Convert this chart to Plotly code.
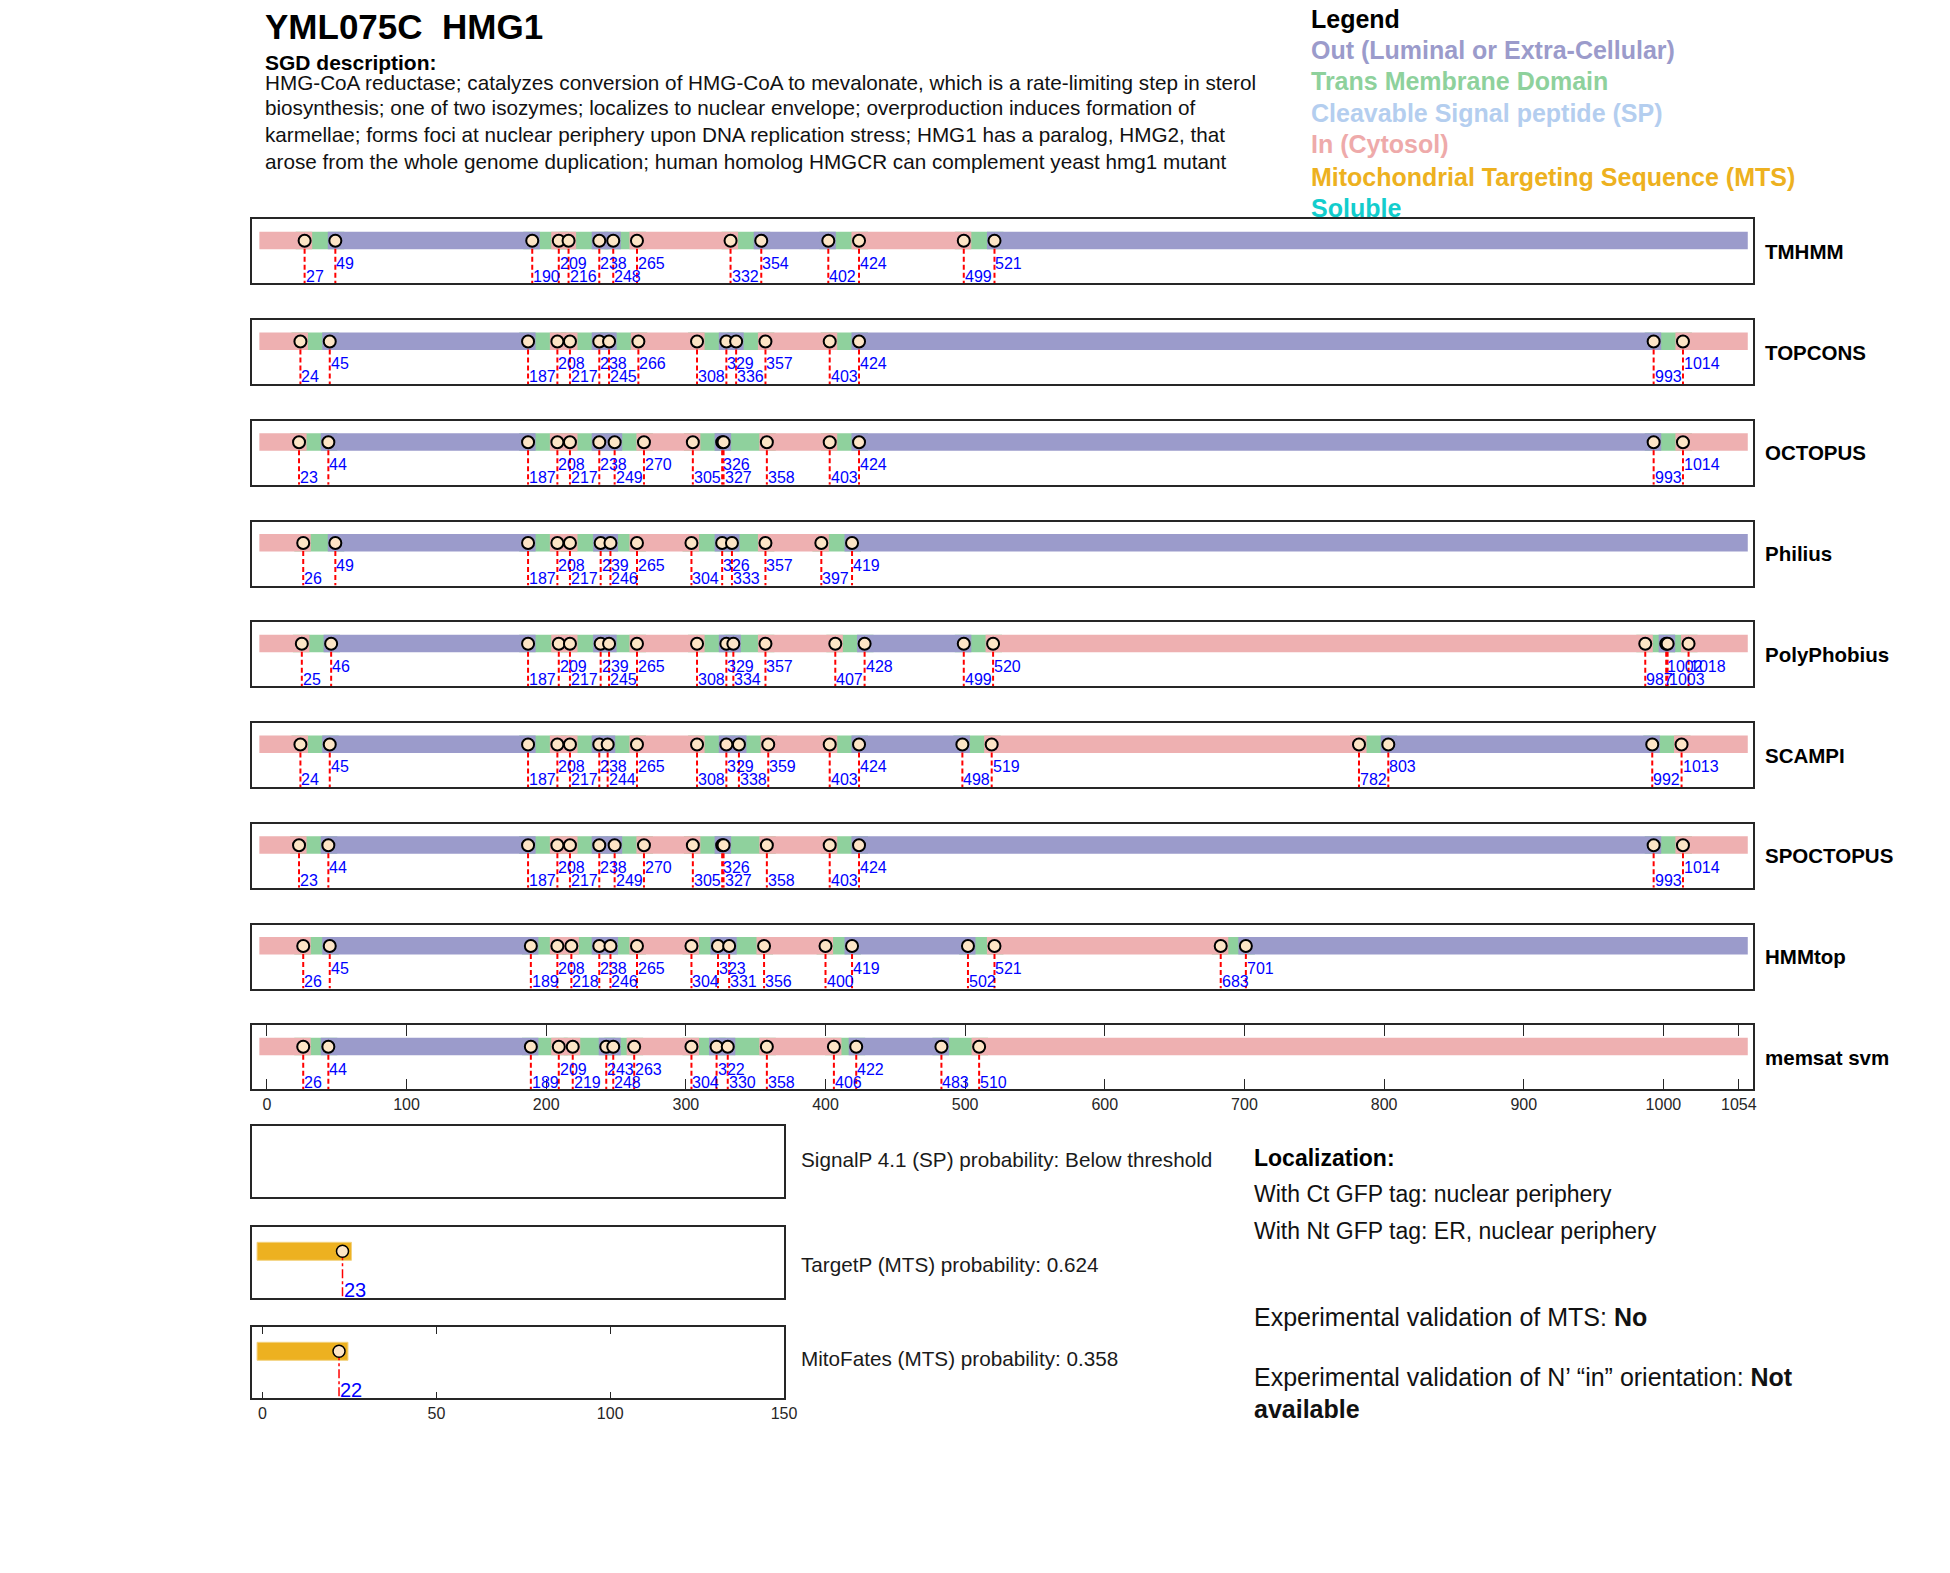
import plotly.graph_objects as go

# ---------------- data ----------------
SEQ_LEN = 1054
METHODS = ["TMHMM", "TOPCONS", "OCTOPUS", "Philius", "PolyPhobius",
           "SCAMPI", "SPOCTOPUS", "HMMtop", "memsat svm"]

TMHMM_POS = [27, 49, 190, 209, 216, 238, 248, 265, 332, 354, 402, 424, 499, 521]
TOPCONS_POS = [24, 45, 187, 208, 217, 238, 245, 266, 308, 329, 336, 357, 403, 424, 993, 1014]
OCTOPUS_POS = [23, 44, 187, 208, 217, 238, 249, 270, 305, 326, 327, 358, 403, 424, 993, 1014]
PHILIUS_POS = [26, 49, 187, 208, 217, 239, 246, 265, 304, 326, 333, 357, 397, 419]
POLYPHOBIUS_POS = [25, 46, 187, 209, 217, 239, 245, 265, 308, 329, 334, 357, 407, 428,
                   499, 520, 987, 1002, 1003, 1018]
SCAMPI_POS = [24, 45, 187, 208, 217, 238, 244, 265, 308, 329, 338, 359, 403, 424,
              498, 519, 782, 803, 992, 1013]
SPOCTOPUS_POS = [23, 44, 187, 208, 217, 238, 249, 270, 305, 326, 327, 358, 403, 424, 993, 1014]
HMMTOP_POS = [26, 45, 189, 208, 218, 238, 246, 265, 304, 323, 331, 356, 400, 419,
              502, 521, 683, 701]
MEMSAT_POS = [26, 44, 189, 209, 219, 243, 248, 263, 304, 322, 330, 358, 406, 422, 483, 510]
N_TERM_SIDE = ["in", "in", "in", "in", "in", "in", "in", "in", "in"]

MAIN_TICKS = [0, 100, 200, 300, 400, 500, 600, 700, 800, 900, 1000, 1054]
LOWER_TICKS = [0, 50, 100, 150]

TARGETP_MTS_END = 23
MITOFATES_MTS_END = 22
TARGETP_PROB = 0.624
MITOFATES_PROB = 0.358
SIGNALP_STATUS = "Below threshold"

GENE_TITLE = "YML075C\u00a0 HMG1"
DESCRIPTION = [
    "HMG-CoA reductase; catalyzes conversion of HMG-CoA to mevalonate, which is a rate-limiting step in sterol",
    "biosynthesis; one of two isozymes; localizes to nuclear envelope; overproduction induces formation of",
    "karmellae; forms foci at nuclear periphery upon DNA replication stress; HMG1 has a paralog, HMG2, that",
    "arose from the whole genome duplication; human homolog HMGCR can complement yeast hmg1 mutant",
]
LEGEND_ITEMS = ["Out (Luminal or Extra-Cellular)", "Trans Membrane Domain",
                "Cleavable Signal peptide (SP)", "In (Cytosol)",
                "Mitochondrial Targeting Sequence (MTS)", "Soluble"]

# ---------------- style ----------------
W, H = 1950, 1573
FONT = "Liberation Sans, Arial, Helvetica, sans-serif"
COL_OUT = "#9B9BCB"
COL_TM = "#8FD19D"
COL_SP = "#B4CEEF"
COL_IN = "#EEB0B1"
COL_MTS = "#EDB120"
COL_SOL = "#13CDCD"
LEGEND_COLORS = ["#9B9BCB", "#8ED19C", "#B4CEEF", "#EEAAAA", "#EDB120", "#13CDCD"]
AX_COL = "#262626"
MARK_FILL = "#FDE5C6"

POSITIONS = [TMHMM_POS, TOPCONS_POS, OCTOPUS_POS, PHILIUS_POS, POLYPHOBIUS_POS,
             SCAMPI_POS, SPOCTOPUS_POS, HMMTOP_POS, MEMSAT_POS]


def px2x(p):
    return p / W


def px2y(p):
    return 1 - p / H


# main panel geometry (pixels)
MAIN_LEFT, MAIN_RIGHT = 253.3, 1764.3
X0_PX, XEND_PX = 268.7, 1750.5
MAIN_SCALE = (XEND_PX - X0_PX) / SEQ_LEN
MAIN_RANGE = [(MAIN_LEFT - X0_PX) / MAIN_SCALE, (MAIN_RIGHT - X0_PX) / MAIN_SCALE]
PANEL_TOP0, PANEL_PITCH, PANEL_H = 219.3, 100.75, 64.0
CAP_PX = 9.0  # square line-cap overhang
BAR_Y0, BAR_Y1, MARK_Y = 12.4, 30.0, 21.4
LAB_UP, LAB_LO = 43.9, 56.9

# lower panel geometry
LOW_LEFT, LOW_RIGHT = 253.3, 789.3
LX0_PX = 264.3
LOW_SCALE = (LOW_RIGHT - LX0_PX) / 150.0
LOW_RANGE = [(LOW_LEFT - LX0_PX) / LOW_SCALE, 150.0]
LOW_TOPS = [1126.0, 1227.3, 1327.3]
LOW_H = 71.0

fig = go.Figure()
layout = dict(width=W, height=H, margin=dict(l=0, r=0, t=0, b=0),
              paper_bgcolor="white", plot_bgcolor="white", showlegend=False,
              font=dict(family=FONT, color=AX_COL))
shapes = []
annotations = []


def ax_names(k):
    if k == 1:
        return "xaxis", "yaxis", "x", "y"
    return f"xaxis{k}", f"yaxis{k}", f"x{k}", f"y{k}"


# ---------------- main topology panels ----------------
for i, (name, pos) in enumerate(zip(METHODS, POSITIONS)):
    k = i + 1
    xa, ya, xr, yr = ax_names(k)
    top = PANEL_TOP0 + PANEL_PITCH * i
    is_last = (i == len(METHODS) - 1)
    layout[xa] = dict(domain=[px2x(MAIN_LEFT), px2x(MAIN_RIGHT)], range=MAIN_RANGE,
                      anchor=yr, showgrid=False, zeroline=False, showline=True,
                      linecolor=AX_COL, linewidth=1.5,
                      mirror="ticks" if is_last else True,
                      ticks="inside" if is_last else "", ticklen=11, tickwidth=1.2,
                      tickcolor=AX_COL,
                      tickvals=MAIN_TICKS if is_last else [],
                      ticktext=[str(t) for t in MAIN_TICKS] if is_last else [],
                      showticklabels=is_last,
                      tickfont=dict(size=16, color=AX_COL, family=FONT))
    layout[ya] = dict(domain=[px2y(top + PANEL_H), px2y(top)], range=[PANEL_H, 0],
                      anchor=xr, showgrid=False, zeroline=False, showline=True,
                      linecolor=AX_COL, linewidth=1.5, mirror=True,
                      showticklabels=False, ticks="")
    ext = CAP_PX / MAIN_SCALE
    starts = pos[0::2]
    ends = pos[1::2]
    # TM segments (drawn first)
    for s, e in zip(starts, ends):
        shapes.append(dict(type="rect", xref=xr, yref=yr, x0=s - ext, x1=e + ext,
                           y0=BAR_Y0, y1=BAR_Y1, fillcolor=COL_TM, line_width=0,
                           layer="below"))
    # soluble stretches alternate in/out
    seg_starts = [1] + [e + 1 for e in ends]
    seg_ends = [s - 1 for s in starts] + [SEQ_LEN]
    side = N_TERM_SIDE[i]
    for s, e in zip(seg_starts, seg_ends):
        shapes.append(dict(type="rect", xref=xr, yref=yr, x0=s - ext, x1=e + ext,
                           y0=BAR_Y0, y1=BAR_Y1,
                           fillcolor=COL_IN if side == "in" else COL_OUT,
                           line_width=0, layer="below"))
        side = "out" if side == "in" else "in"
    # red dashed drop lines
    lx, ly = [], []
    for p in pos:
        lx += [p, p, None]
        ly += [MARK_Y, PANEL_H, None]
    fig.add_trace(go.Scatter(x=lx, y=ly, mode="lines", xaxis=xr, yaxis=yr,
                             line=dict(color="#FF0000", width=2, dash="5px,3px"),
                             hoverinfo="skip"))
    fig.add_trace(go.Scatter(x=pos, y=[MARK_Y] * len(pos), mode="markers",
                             xaxis=xr, yaxis=yr,
                             marker=dict(size=12, color=MARK_FILL,
                                         line=dict(color="black", width=2)),
                             hoverinfo="x"))
    # position labels
    for j, p in enumerate(pos):
        if j % 2 == 0:
            ylab = LAB_LO
        else:
            ylab = LAB_UP if (p - pos[j - 1]) < 25 else LAB_LO
        annotations.append(dict(x=p, y=ylab, xref=xr, yref=yr, text=str(p),
                                showarrow=False, xanchor="left", yanchor="middle",
                                xshift=-1, font=dict(size=16, color="#0000FF", family=FONT)))
    annotations.append(dict(x=px2x(1775), y=px2y(top + PANEL_H / 2), xref="paper",
                            yref="paper", text=f"<b>{name}</b>", showarrow=False,
                            xanchor="left", yanchor="middle",
                            font=dict(size=20.5, color="black", family=FONT)))

# ---------------- lower panels (SignalP / TargetP / MitoFates) ----------------
low_texts = [f"SignalP 4.1 (SP) probability: {SIGNALP_STATUS}",
             f"TargetP (MTS) probability: {TARGETP_PROB}",
             f"MitoFates (MTS) probability: {MITOFATES_PROB}"]
low_text_y = [1159, 1264, 1358]
mts_ends = [None, TARGETP_MTS_END, MITOFATES_MTS_END]
for j in range(3):
    k = len(METHODS) + 1 + j
    xa, ya, xr, yr = ax_names(k)
    top = LOW_TOPS[j]
    is_last = (j == 2)
    layout[xa] = dict(domain=[px2x(LOW_LEFT), px2x(LOW_RIGHT)], range=LOW_RANGE,
                      anchor=yr, showgrid=False, zeroline=False, showline=True,
                      linecolor=AX_COL, linewidth=1.5,
                      mirror="ticks" if is_last else True,
                      ticks="inside" if is_last else "", ticklen=7, tickwidth=1.2,
                      tickcolor=AX_COL,
                      tickvals=LOWER_TICKS if is_last else [],
                      ticktext=[str(t) for t in LOWER_TICKS] if is_last else [],
                      showticklabels=is_last,
                      tickfont=dict(size=16, color=AX_COL, family=FONT))
    layout[ya] = dict(domain=[px2y(top + LOW_H), px2y(top)], range=[LOW_H, 0],
                      anchor=xr, showgrid=False, zeroline=False, showline=True,
                      linecolor=AX_COL, linewidth=1.5, mirror=True,
                      showticklabels=False, ticks="")
    # placeholder trace so the (possibly empty) panel frame is drawn
    fig.add_trace(go.Scatter(x=[LOW_RANGE[0]], y=[0], mode="markers", xaxis=xr, yaxis=yr,
                             marker=dict(size=1, opacity=0), hoverinfo="skip"))
    m = mts_ends[j]
    if m is not None:
        ext = CAP_PX / LOW_SCALE
        shapes.append(dict(type="rect", xref=xr, yref=yr, x0=1 - ext, x1=m + ext,
                           y0=15, y1=33, fillcolor=COL_MTS,
                           line=dict(color="#F3D27E", width=1), layer="below"))
        fig.add_trace(go.Scatter(x=[m, m], y=[24, LOW_H], mode="lines", xaxis=xr, yaxis=yr,
                                 line=dict(color="#FF0000", width=1.5, dash="dashdot"),
                                 hoverinfo="skip"))
        fig.add_trace(go.Scatter(x=[m], y=[24], mode="markers", xaxis=xr, yaxis=yr,
                                 marker=dict(size=12, color=MARK_FILL,
                                             line=dict(color="black", width=1.5)),
                                 hoverinfo="x"))
        annotations.append(dict(x=m, y=63, xref=xr, yref=yr, text=str(m), showarrow=False,
                                xanchor="left", yanchor="middle", xshift=-1,
                                font=dict(size=20, color="#0000FF", family=FONT)))
    annotations.append(dict(x=px2x(804), y=px2y(low_text_y[j]), xref="paper", yref="paper",
                            text=low_texts[j], showarrow=False, xanchor="left",
                            yanchor="middle", font=dict(size=20.7, color="#1a1a1a", family=FONT)))

# ---------------- header texts ----------------
def txt(xp, yp, text, size, color="black", bold=False):
    annotations.append(dict(x=px2x(xp), y=px2y(yp), xref="paper", yref="paper",
                            text=f"<b>{text}</b>" if bold else text, showarrow=False,
                            xanchor="left", yanchor="middle",
                            font=dict(size=size, color=color, family=FONT)))


txt(265, 27, GENE_TITLE, 35, bold=True)
txt(265, 62, "SGD description:", 21, bold=True)
for yy, line in zip([82, 108, 135, 162], DESCRIPTION):
    txt(265, yy, line, 20.7, color="#111111")

txt(1318, 19, "Legend", 25, bold=True)
for yy, item, col in zip([50, 81, 113, 144, 177, 208], LEGEND_ITEMS, LEGEND_COLORS):
    txt(1318, yy, item, 25, color=col, bold=True)

txt(1260, 1158, "Localization:", 23, bold=True)
txt(1260, 1194, "With Ct GFP tag: nuclear periphery", 23, color="#111111")
txt(1260, 1231, "With Nt GFP tag: ER, nuclear periphery", 23, color="#111111")
txt(1260, 1317, "Experimental validation of MTS: <b>No</b>", 25, color="#111111")
txt(1260, 1377, "Experimental validation of N\u2019 \u201cin\u201d orientation: <b>Not</b>", 25,
    color="#111111")
txt(1260, 1409, "<b>available</b>", 25, color="#111111")

layout["shapes"] = shapes
layout["annotations"] = annotations
fig.update_layout(**layout)
fig.write_html("out.html", config={"displayModeBar": False},
               post_script="document.body.style.margin='0';document.body.style.overflow='hidden';")
